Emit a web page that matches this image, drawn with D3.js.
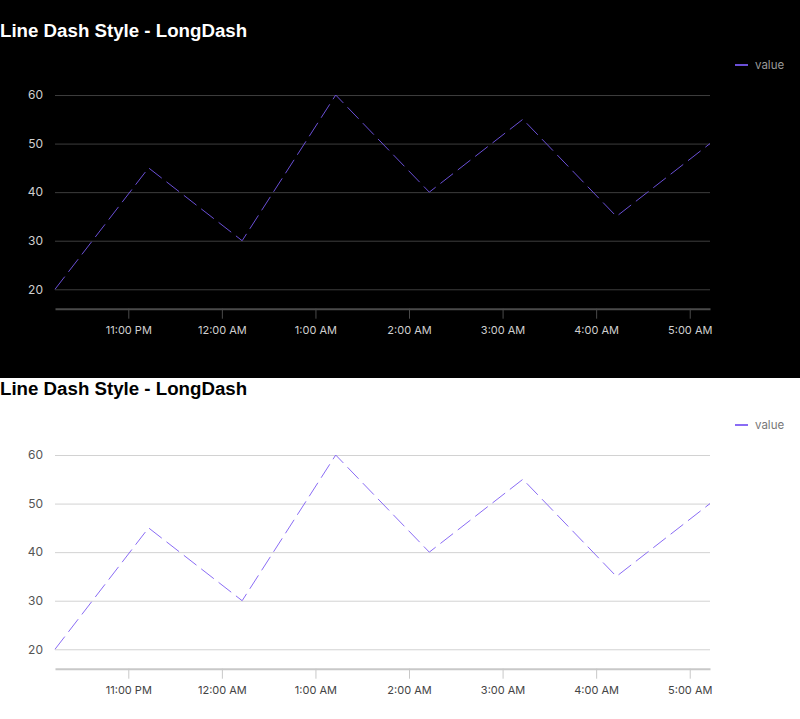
<!DOCTYPE html>
<html>
<head>
<meta charset="utf-8">
<script src="https://cdn.jsdelivr.net/npm/d3@7"></script>
<style>
  body { margin: 0; background: #fff; }
  svg { display: block; }
</style>
</head>
<body>
<div id="chart"></div>
<script>
// data: one point per hour, starting 22:13
const times = ["22:13", "23:13", "00:13", "01:13", "02:13", "03:13", "04:13", "05:13"];
const values = [20, 45, 30, 60, 40, 55, 35, 50];
const yTicks = [20, 30, 40, 50, 60];
const seriesName = "value";
const titleText = "Line Dash Style - LongDash";

// turn "HH:MM" into dates, rolling over midnight
const dates = [];
let day = 1;
times.forEach((t, i) => {
  const [h, m] = t.split(":").map(Number);
  if (i > 0 && h < +times[i - 1].split(":")[0]) day++;
  dates.push(new Date(2024, 0, day, h, m));
});
const data = dates.map((d, i) => ({ date: d, value: values[i] }));

const W = 800, H = 719;
const svg = d3.select("#chart").append("svg")
  .attr("width", W)
  .attr("height", H);

const themes = [
  { top: 0, height: 378, titleY: 37, bg: "#000", title: "#fff", grid: "#3d3d3d", axis: "#4a4a4a",
    tick: "#cfcfcf", ylab: "#cfcfcf", legend: "#9a9a9a", line: "#6a4fd6" },
  { top: 378, height: 341, titleY: 17, bg: "#fff", title: "#000", grid: "#d2d2d2", axis: "#c8c8c8",
    tick: "#444", ylab: "#555", legend: "#777", line: "#8a6cf5" }
];

const margin = { left: 55, right: 90 };
const plotTop = 75.6, plotBottom = 308.7; // relative to the dark panel

themes.forEach((th, k) => {
  const shift = k * 360; // plot area of the second panel sits 360px lower
  const g = svg.append("g");

  g.append("rect")
    .attr("x", 0).attr("y", th.top)
    .attr("width", W).attr("height", th.height)
    .attr("fill", th.bg);

  g.append("text")
    .attr("x", 0)
    .attr("y", th.top + th.titleY)
    .attr("fill", th.title)
    .style("font-family", "'Liberation Sans', Arial, sans-serif")
    .style("font-weight", "bold")
    .style("font-size", "18.7px")
    .text(titleText);

  const x = d3.scaleTime()
    .domain(d3.extent(dates))
    .range([margin.left, W - margin.right]);

  const y = d3.scaleLinear()
    .domain([16, 64])
    .range([plotBottom + shift, plotTop + shift]);

  // gridlines + y labels
  const yAxis = g.append("g")
    .attr("transform", `translate(${margin.left},0)`)
    .call(d3.axisLeft(y).tickValues(yTicks).tickSize(-(W - margin.right - margin.left)).tickPadding(12));
  yAxis.select(".domain").remove();
  yAxis.selectAll(".tick line").attr("stroke", th.grid).attr("stroke-width", 1);
  yAxis.selectAll(".tick text")
    .attr("fill", th.ylab)
    .style("font-family", "Inter, 'Open Sans', sans-serif")
    .style("font-size", "12px");

  // x axis
  const xAxis = g.append("g")
    .attr("transform", `translate(0,${plotBottom + shift})`)
    .call(d3.axisBottom(x)
      .ticks(d3.timeHour.every(1))
      .tickFormat(d3.timeFormat("%-I:%M %p"))
      .tickSize(10)
      .tickSizeOuter(0)
      .tickPadding(8));
  xAxis.select(".domain").attr("stroke", th.axis).attr("stroke-width", 2);
  xAxis.selectAll(".tick line").attr("stroke", th.axis);
  xAxis.selectAll(".tick text")
    .attr("fill", th.tick)
    .style("font-family", "Inter, 'Open Sans', sans-serif")
    .style("font-size", "11px");

  // the dashed series
  const line = d3.line()
    .x(d => x(d.date))
    .y(d => y(d.value));

  g.append("path")
    .datum(data)
    .attr("d", line)
    .attr("fill", "none")
    .attr("stroke", th.line)
    .attr("stroke-width", 1)
    .attr("stroke-dasharray", "16,6");

  // legend
  const leg = g.append("g")
    .attr("transform", `translate(735,${65 + shift})`);
  leg.append("line")
    .attr("x1", 0).attr("x2", 13)
    .attr("y1", 0).attr("y2", 0)
    .attr("stroke", th.line)
    .attr("stroke-width", 2);
  leg.append("text")
    .attr("x", 20)
    .attr("y", 4)
    .attr("fill", th.legend)
    .style("font-family", "Inter, 'Open Sans', sans-serif")
    .style("font-size", "11.5px")
    .text(seriesName);
});
</script>
</body>
</html>
